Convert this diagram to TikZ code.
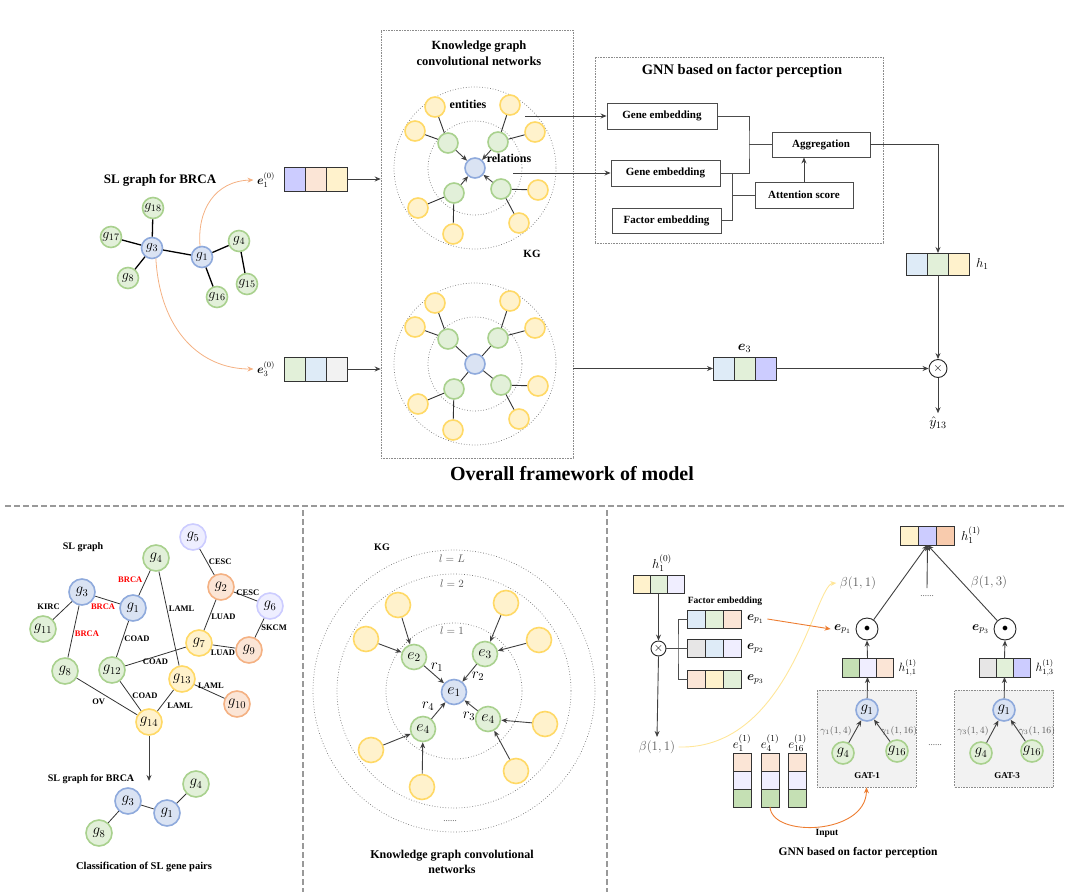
\documentclass[tikz,border=0pt]{standalone}
\usepackage{fix-cm}
\usepackage{amsmath}
\usepackage{fontspec}
\setmainfont{Liberation Serif}
\usetikzlibrary{arrows.meta, positioning, calc}
\definecolor{sfBlueFill}{HTML}{DAE3F3}
\definecolor{sfBlueLine}{HTML}{8FAADC}
\definecolor{sfGreenFill}{HTML}{E2F0D9}
\definecolor{sfGreenLine}{HTML}{A9D18E}
\definecolor{sfYellowFill}{HTML}{FFF2CC}
\definecolor{sfYellowLine}{HTML}{FFD966}
\definecolor{sfOrangeFill}{HTML}{FBE5D6}
\definecolor{sfOrangeLine}{HTML}{F4B183}
\definecolor{sfLavFill}{HTML}{EEEEFF}
\definecolor{sfLavLine}{HTML}{CCCCFF}
\definecolor{sfLav}{HTML}{CCCCFF}
\definecolor{sfPale}{HTML}{F0EEFF}
\definecolor{sfSky}{HTML}{DEEBF7}
\definecolor{sfGray}{HTML}{E7E6E6}
\definecolor{sfLight}{HTML}{F2F2F2}
\definecolor{sfLeaf}{HTML}{C5E0B4}
\definecolor{sfPeach}{HTML}{F8CBAD}
\definecolor{sfCurve}{HTML}{F4B183}
\definecolor{sfInput}{HTML}{ED7D31}
\definecolor{sfGold}{HTML}{FFE699}
\definecolor{sfRed}{HTML}{FF0000}

% three-cell embedding vector: name, centre of middle cell, cell width, cell height, colours
\newcommand{\embvec}[7]{%
  \node[vcell, minimum width=#3, minimum height=#4, fill=#6] (#1-2) at #2 {};
  \node[vcell, minimum width=#3, minimum height=#4, fill=#5, left=0pt of #1-2] (#1-1) {};
  \node[vcell, minimum width=#3, minimum height=#4, fill=#7, right=0pt of #1-2] (#1-3) {};
}

\begin{document}
\begin{tikzpicture}[x=1pt, y=-1pt,
    font=\fontsize{12}{14}\selectfont,
    gene/.style={circle, line width=1.6pt, inner sep=0pt, minimum size=21pt, font=\fontsize{14}{14}\selectfont},
    gblue/.style={gene, draw=sfBlueLine, fill=sfBlueFill},
    ggreen/.style={gene, draw=sfGreenLine, fill=sfGreenFill},
    gyellow/.style={gene, draw=sfYellowLine, fill=sfYellowFill},
    gorange/.style={gene, draw=sfOrangeLine, fill=sfOrangeFill},
    glav/.style={gene, draw=sfLavLine, fill=sfLavFill},
    big/.style={minimum size=26pt, font=\fontsize{15}{15}\selectfont},
    mid/.style={minimum size=25pt, font=\fontsize{16}{16}\selectfont},
    vcell/.style={draw=black!80, line width=0.9pt, inner sep=0pt, outer sep=0pt},
    box/.style={draw=black!70, line width=0.9pt, minimum height=26pt, font=\bfseries\fontsize{11}{13}\selectfont},
    dotbox/.style={draw=black!45, densely dotted, line width=0.6pt},
    gatbox/.style={draw=black!45, densely dotted, line width=0.6pt, fill=sfLight},
    ring/.style={draw=black!55, dotted, line width=0.7pt},
    link/.style={draw=black, line width=1.3pt},
    ledge/.style={draw=black!80, line width=0.8pt},
    kgline/.style={draw=black!80, line width=0.9pt},
    conn/.style={draw=black!70, line width=0.9pt},
    arr/.style={-{Stealth[length=6pt, width=5pt]}, draw=black!75, line width=0.9pt},
    ocurve/.style={-{Stealth[length=6pt, width=5pt]}, draw=sfCurve, line width=0.8pt},
    icurve/.style={-{Stealth[length=6pt, width=5pt]}, draw=sfInput, line width=0.9pt},
    ycurve/.style={-{Stealth[length=6pt, width=5pt]}, draw=sfGold, line width=0.9pt},
    opnode/.style={circle, draw=black!85, line width=0.9pt, inner sep=0pt, fill=white},
    title/.style={font=\bfseries\fontsize{12.5}{16}\selectfont, align=center},
    elab/.style={font=\bfseries\fontsize{8.5}{10}\selectfont, inner sep=1.5pt},
    gtext/.style={text=black!65, font=\fontsize{13}{15}\selectfont},
    sepline/.style={draw=black!40, line width=2.2pt, dash pattern=on 6pt off 3pt}
  ]
  \useasboundingbox (0,0) rectangle (1069,894);

  % ---------- overall framework ----------
  \node[title, font=\bfseries\fontsize{13}{15}\selectfont] (slt) at (160,180) {SL graph for BRCA};
  \node[gblue] (t3) at (152,248) {$g_{3}$};
  \node[gblue] (t1) at (202,257) {$g_{1}$};
  \node[ggreen] (t18) at (153,208) {$g_{18}$};
  \node[ggreen] (t17) at (111,237) {$g_{17}$};
  \node[ggreen] (t8) at (128,278) {$g_{8}$};
  \node[ggreen] (t4) at (239,241) {$g_{4}$};
  \node[ggreen] (t15) at (247,284) {$g_{15}$};
  \node[ggreen] (t16) at (217,297) {$g_{16}$};
  \foreach \a/\b in {t3/t18, t3/t17, t3/t8, t3/t1, t1/t4, t4/t15, t1/t16}
    \draw[link] (\a) -- (\b);

  \node (e1lab) at (266,180) {$\boldsymbol{e}_{1}^{(0)}$};
  \embvec{e1v}{(315.5,179)}{21pt}{24pt}{sfLav}{sfOrangeFill}{sfYellowFill}
  \node (e3lab) at (266,369) {$\boldsymbol{e}_{3}^{(0)}$};
  \embvec{e3v}{(315.5,369)}{21pt}{24pt}{sfGreenFill}{sfSky}{sfLight}
  \draw[ocurve] (t1.100) .. controls (197,210) and (215,181) .. (e1lab.west);
  \draw[ocurve] (t3.-70) .. controls (160,330) and (200,369) .. (e3lab.west);

  % knowledge graph convolutional networks
  \node[dotbox, minimum width=192pt, minimum height=428pt] (kgbox) at (477,244) {};
  \node[title] (kgt) at (479,53) {Knowledge graph\\convolutional networks};
  \draw[arr] (e1v-3.east) -- (e1v-3.east -| kgbox.west);
  \draw[arr] (e3v-3.east) -- (e3v-3.east -| kgbox.west);

  \draw[ring] (475,168) circle[radius=81];
  \draw[ring] (475,168) circle[radius=47];
  \node[gblue, minimum size=20pt] (kuc) at (475,168) {};
  \foreach \g/\x/\y in {1/448/143, 2/498/142, 3/454/193, 4/501/189} {
    \node[ggreen, minimum size=20pt] (kug\g) at (\x,\y) {};
    \draw[arr] (kug\g) -- (kuc);
  }
  \foreach \k/\g/\x/\y in {1/1/435/107, 2/1/415/131, 3/2/510/105, 4/2/535/132,
                           5/3/418/208, 6/3/453/234, 7/4/538/190, 8/4/519/223} {
    \node[gyellow, minimum size=20pt] (kuy\k) at (\x,\y) {};
    \draw[kgline] (kuy\k) -- (kug\g);
  }
  \node[title, font=\bfseries\fontsize{12}{14}\selectfont] (entl) at (468,104) {entities};
  \node[title, font=\bfseries\fontsize{12}{14}\selectfont] (rell) at (509,158) {relations};
  \node[title, font=\bfseries\fontsize{11}{13}\selectfont] (kgl) at (532,254) {KG};

  \draw[ring] (475,364) circle[radius=81];
  \draw[ring] (475,364) circle[radius=47];
  \node[gblue, minimum size=20pt] (klc) at (475,364) {};
  \foreach \g/\x/\y in {1/448/339, 2/498/338, 3/454/389, 4/501/385} {
    \node[ggreen, minimum size=20pt] (klg\g) at (\x,\y) {};
    \draw[kgline] (klg\g) -- (klc);
  }
  \foreach \k/\g/\x/\y in {1/1/435/303, 2/1/415/327, 3/2/510/301, 4/2/535/328,
                           5/3/418/404, 6/3/453/430, 7/4/538/386, 8/4/519/419} {
    \node[gyellow, minimum size=20pt] (kly\k) at (\x,\y) {};
    \draw[kgline] (kly\k) -- (klg\g);
  }

  % GNN based on factor perception
  \node[dotbox, minimum width=288pt, minimum height=186pt] (gnnbox) at (739,150) {};
  \node[title, font=\bfseries\fontsize{14.5}{16}\selectfont] (gnnt) at (742,71) {GNN based on factor perception};
  \node[box, minimum width=110pt] (ge1) at (662,116) {Gene embedding};
  \node[box, minimum width=109pt] (ge2) at (665.5,173) {Gene embedding};
  \node[box, minimum width=109pt, minimum height=25pt] (fe) at (666.5,220.5) {Factor embedding};
  \node[box, minimum width=98pt, minimum height=25pt] (agg) at (821,144.5) {Aggregation};
  \node[box, minimum width=98pt] (att) at (804,195) {Attention score};
  \coordinate (kuo1) at (525,116);
  \coordinate (kuo2) at (513,173);
  \draw[arr] (kuo1) -- (kuo1 -| ge1.west);
  \draw[arr] (kuo2) -- (kuo2 -| ge2.west);
  \coordinate (jn1) at (749,144.5);
  \coordinate (jn2) at (732,195);
  \draw[conn] (ge1.east) -| (jn1) |- (ge2.east);
  \draw[conn] (jn1) -- (agg.west);
  \draw[conn] (fe.east) -| (jn2) -- (att.west);
  \draw[conn] (jn2) |- (ge2.east);
  \draw[arr] (att.north) -- (att.north |- agg.south);

  % scoring
  \embvec{h1v}{(938,264)}{21pt}{22pt}{sfSky}{sfGreenFill}{sfYellowFill}
  \node[right=3pt of h1v-3, font=\fontsize{13}{15}\selectfont] (h1lab) {$h_{1}$};
  \draw[arr] (agg.east) -| (h1v-2.north);
  \embvec{e3o}{(744.5,368.5)}{21pt}{23pt}{sfSky}{sfGreenFill}{sfLav}
  \node[above=1pt of e3o-2, font=\fontsize{14}{16}\selectfont] (e3olab) {$\boldsymbol{e}_{3}$};
  \draw[arr] (kgbox.east |- e3o-1.west) -- (e3o-1.west);
  \node[opnode, minimum size=18pt] (prod) at (938,368.5) {$\times$};
  \draw[arr] (e3o-3.east) -- (prod.west);
  \draw[arr] (h1v-2.south) -- (prod.north);
  \node[font=\fontsize{14}{16}\selectfont] (yhat) at (938,423) {$\hat{y}_{13}$};
  \draw[arr] (prod.south) -- (yhat.north);

  \node[font=\bfseries\fontsize{20}{22}\selectfont] (overall) at (572,474) {Overall framework of model};

  \draw[sepline] (5,506) -- (1064,506);
  \draw[sepline] (303,510) -- (303,892);
  \draw[sepline] (607,510) -- (607,892);

  % ---------- classification of SL gene pairs ----------
  \node[title, font=\bfseries\fontsize{10}{12}\selectfont] (slg) at (83,547) {SL graph};
  \node[glav, big] (b5) at (193,537) {$g_{5}$};
  \node[ggreen, big] (b4) at (156,558) {$g_{4}$};
  \node[gorange, big] (b2) at (221,587) {$g_{2}$};
  \node[gblue, big] (b3) at (82,592) {$g_{3}$};
  \node[gblue, big] (b1) at (133,608) {$g_{1}$};
  \node[glav, big] (b6) at (270,606) {$g_{6}$};
  \node[ggreen, big] (b11) at (43,629) {$g_{11}$};
  \node[gyellow, big] (b7) at (199,643) {$g_{7}$};
  \node[gorange, big] (b9) at (249,650) {$g_{9}$};
  \node[ggreen, big] (b8) at (65,671) {$g_{8}$};
  \node[ggreen, big] (b12) at (112,670) {$g_{12}$};
  \node[gyellow, big] (b13) at (182,679) {$g_{13}$};
  \node[gorange, big] (b10) at (237,704) {$g_{10}$};
  \node[gyellow, big] (b14) at (149,722) {$g_{14}$};
  \draw[ledge] (b5) -- node[elab, right, pos=.5] {CESC} (b2);
  \draw[ledge] (b2) -- node[elab, above, pos=.6] {CESC} (b6);
  \draw[ledge] (b6) -- node[elab, right, pos=.5] {SKCM} (b9);
  \draw[ledge] (b2) -- node[elab, right, pos=.55] {LUAD} (b7);
  \draw[ledge] (b7) -- node[elab, below=2pt, pos=.45] {LUAD} (b9);
  \draw[ledge] (b4) -- node[elab, left=2pt, pos=.35, text=sfRed] {BRCA} (b1);
  \draw[ledge] (b4) -- node[elab, right, pos=.4] {LAML} (b13);
  \draw[ledge] (b3) -- node[elab, below=3pt, pos=.32, text=sfRed] {BRCA} (b1);
  \draw[ledge] (b3) -- node[elab, above left, pos=.55] {KIRC} (b11);
  \draw[ledge] (b3) -- node[elab, right, pos=.55, text=sfRed] {BRCA} (b8);
  \draw[ledge] (b1) -- node[elab, right, pos=.5] {COAD} (b12);
  \draw[ledge] (b12) -- node[elab, below, pos=.5] {COAD} (b7);
  \draw[ledge] (b12) -- node[elab, right, pos=.5] {COAD} (b14);
  \draw[ledge] (b13) -- node[elab, below right, pos=.5] {LAML} (b14);
  \draw[ledge] (b13) -- node[elab, above=2pt, pos=.55] {LAML} (b10);
  \draw[ledge] (b8) -- node[elab, below left, pos=.5] {OV} (b14);
  \coordinate (bdown) at (149,781);
  \draw[arr] (b14) -- (bdown);

  \node[title, font=\bfseries\fontsize{10}{12}\selectfont] (slb) at (91,779) {SL graph for BRCA};
  \node[gblue, big] (s3) at (128,801) {$g_{3}$};
  \node[gblue, big] (s1) at (167,813) {$g_{1}$};
  \node[ggreen, big] (s4) at (196,784) {$g_{4}$};
  \node[ggreen, big] (s8) at (99,833) {$g_{8}$};
  \draw[ledge] (s3) -- (s1);
  \draw[ledge] (s1) -- (s4);
  \draw[ledge] (s3) -- (s8);
  \node[title, font=\bfseries\fontsize{10.5}{12}\selectfont] (slcap) at (144,867) {Classification of SL gene pairs};

  % ---------- knowledge graph convolutional networks ----------
  \node[title, font=\bfseries\fontsize{10}{12}\selectfont] (kgm) at (382,547) {KG};
  \draw[ring] (454,691) circle[radius=141];
  \draw[ring] (454,691) circle[radius=117];
  \draw[ring] (454,691) circle[radius=68];
  \node[gtext, font=\fontsize{11}{12}\selectfont] (lL) at (452,559) {$l=L$};
  \node[gtext, font=\fontsize{11}{12}\selectfont] (l2) at (452,584) {$l=2$};
  \node[gtext, font=\fontsize{11}{12}\selectfont] (l1) at (452,631) {$l=1$};
  \node[gblue, mid] (m1) at (454,692) {$e_{1}$};
  \node[ggreen, mid] (m2) at (414,657) {$e_{2}$};
  \node[ggreen, mid] (m3) at (485,654) {$e_{3}$};
  \node[ggreen, mid] (m4a) at (423,729) {$e_{4}$};
  \node[ggreen, mid] (m4b) at (488,719) {$e_{4}$};
  \foreach \g in {m2, m3, m4a, m4b}
    \draw[arr] (\g) -- (m1);
  \foreach \k/\g/\x/\y in {1/m2/398/605, 2/m2/366/639, 3/m3/506/603, 4/m3/539/640,
                           5/m4b/545/724, 6/m4b/516/771, 7/m4a/371/750, 8/m4a/422/787} {
    \node[gyellow, mid] (my\k) at (\x,\y) {};
    \draw[arr] (my\k) -- (\g);
  }
  \node[font=\fontsize{15}{15}\selectfont] (r1lab) at (437,667) {$r_{1}$};
  \node[font=\fontsize{15}{15}\selectfont] (r2lab) at (478,676) {$r_{2}$};
  \node[font=\fontsize{15}{15}\selectfont] (r3lab) at (469,716) {$r_{3}$};
  \node[font=\fontsize{15}{15}\selectfont] (r4lab) at (428,706) {$r_{4}$};
  \node[gtext, font=\fontsize{9}{10}\selectfont] (mdots) at (450,821) {......};
  \node[title, font=\bfseries\fontsize{12}{15}\selectfont] (kgcap) at (452,862) {Knowledge graph convolutional\\networks};

  % ---------- GNN based on factor perception ----------
  \node[font=\fontsize{13}{15}\selectfont] (h0lab) at (662,563) {$h_{1}^{(0)}$};
  \embvec{h0v}{(658.5,584)}{17pt}{18pt}{sfYellowFill}{sfGreenFill}{sfPale}
  \node[opnode, minimum size=15pt] (prod2) at (658.5,648.5) {$\times$};
  \draw[arr] (h0v-2.south) -- (prod2.north);
  \node[font=\bfseries\fontsize{9.5}{11}\selectfont] (fetxt) at (725,601) {Factor embedding};
  \embvec{ep1v}{(714.5,619)}{18pt}{18pt}{sfSky}{sfGreenFill}{sfOrangeFill}
  \embvec{ep2v}{(714.5,648.5)}{18pt}{18pt}{sfGray}{sfSky}{sfPale}
  \embvec{ep3v}{(714.5,679.5)}{18pt}{18pt}{sfOrangeFill}{sfYellowFill}{sfGreenFill}
  \node[right=2pt of ep1v-3, font=\fontsize{13}{15}\selectfont] (ep1lab) {$\boldsymbol{e}_{p_{1}}$};
  \node[right=2pt of ep2v-3, font=\fontsize{13}{15}\selectfont] (ep2lab) {$\boldsymbol{e}_{p_{2}}$};
  \node[right=2pt of ep3v-3, font=\fontsize{13}{15}\selectfont] (ep3lab) {$\boldsymbol{e}_{p_{3}}$};
  \coordinate (fj) at (678,648.5);
  \draw[conn] (ep1v-1.west) -| (fj) |- (ep3v-1.west);
  \draw[conn] (prod2.east) -- (ep2v-1.west);
  \node[gtext] (beta0) at (657,747) {$\beta(1,1)$};
  \draw[arr] (prod2.south) -- (beta0.north);

  \embvec{h1o}{(927.5,535.5)}{18pt}{19pt}{sfYellowFill}{sfLav}{sfPeach}
  \node[right=3pt of h1o-3, font=\fontsize{13}{15}\selectfont] (h1olab) {$h_{1}^{(1)}$};
  \node[opnode, minimum size=22pt] (odot1) at (867,629) {$\bullet$};
  \node[opnode, minimum size=22pt] (odot3) at (1005,629) {$\bullet$};
  \node[left=1pt of odot1, font=\fontsize{13}{15}\selectfont] (epa) {$\boldsymbol{e}_{p_{1}}$};
  \node[left=1pt of odot3, font=\fontsize{13}{15}\selectfont] (epc) {$\boldsymbol{e}_{p_{3}}$};
  \draw[arr] (odot1) -- (h1o-2.south);
  \draw[arr] (odot3) -- (h1o-2.south);
  \coordinate (hmid) at (927,588);
  \draw[arr] (hmid) -- (h1o-2.south);
  \node[gtext, font=\fontsize{9}{10}\selectfont] (hdots) at (927,596) {......};
  \node[gtext] (b11lab) at (858,583) {$\beta(1,1)$};
  \node[gtext] (b13lab) at (989,582) {$\beta(1,3)$};
  \draw[ycurve] (beta0.east) .. controls (790,750) and (815,585) .. (b11lab.west);
  \draw[icurve] (ep1lab.east) -- (epa.west);

  \embvec{h11v}{(867.5,667.5)}{17pt}{19pt}{sfLeaf}{sfPale}{sfOrangeFill}
  \node[right=2pt of h11v-3] (h11lab) {$h_{1,1}^{(1)}$};
  \embvec{h13v}{(1004.5,667.5)}{17pt}{19pt}{sfGray}{sfGreenFill}{sfLav}
  \node[right=2pt of h13v-3] (h13lab) {$h_{1,3}^{(1)}$};
  \draw[arr] (h11v-2.north) -- (odot1.south);
  \draw[arr] (h13v-2.north) -- (odot3.south);

  \node[gatbox, minimum width=99pt, minimum height=97pt] (gat1) at (866.5,738.5) {};
  \node[gatbox, minimum width=99pt, minimum height=97pt] (gat3) at (1004,738.5) {};
  \node[gblue, minimum size=22pt, font=\fontsize{15}{15}\selectfont] (ga1) at (867,710) {$g_{1}$};
  \node[ggreen, minimum size=22pt, font=\fontsize{15}{15}\selectfont] (ga4) at (843,753) {$g_{4}$};
  \node[ggreen, minimum size=22pt, font=\fontsize{15}{15}\selectfont] (ga16) at (897,751) {$g_{16}$};
  \node[gblue, minimum size=22pt, font=\fontsize{15}{15}\selectfont] (gc1) at (1004,710) {$g_{1}$};
  \node[ggreen, minimum size=22pt, font=\fontsize{15}{15}\selectfont] (gc4) at (981,753) {$g_{4}$};
  \node[ggreen, minimum size=22pt, font=\fontsize{15}{15}\selectfont] (gc16) at (1032,751) {$g_{16}$};
  \draw[arr] (ga4) -- (ga1);
  \draw[arr] (ga16) -- (ga1);
  \draw[arr] (gc4) -- (gc1);
  \draw[arr] (gc16) -- (gc1);
  \draw[arr] (ga1) -- (h11v-2.south);
  \draw[arr] (gc1) -- (h13v-2.south);
  \node[gtext, font=\fontsize{9.5}{10}\selectfont] (ga14) at (836,731) {$\gamma_{1}(1,4)$};
  \node[gtext, font=\fontsize{9.5}{10}\selectfont] (ga116) at (899,731) {$\gamma_{1}(1,16)$};
  \node[gtext, font=\fontsize{9.5}{10}\selectfont] (gc34) at (973,731) {$\gamma_{3}(1,4)$};
  \node[gtext, font=\fontsize{9.5}{10}\selectfont] (gc316) at (1037,731) {$\gamma_{3}(1,16)$};
  \node[font=\bfseries\fontsize{9}{10}\selectfont] (gat1lab) at (867,776) {GAT-1};
  \node[font=\bfseries\fontsize{9}{10}\selectfont] (gat3lab) at (1007,776) {GAT-3};
  \node[gtext, font=\fontsize{9}{10}\selectfont] (gdots) at (935,745) {......};

  \foreach \c/\x/\s in {c1/742/1, c4/770/4, c16/797.5/16} {
    \node[vcell, minimum width=18pt, minimum height=18pt, fill=sfOrangeFill] (\c-1) at (\x,762) {};
    \node[vcell, minimum width=18pt, minimum height=18pt, fill=sfPale, below=0pt of \c-1] (\c-2) {};
    \node[vcell, minimum width=18pt, minimum height=18pt, fill=sfLeaf, below=0pt of \c-2] (\c-3) {};
    \node[above=0pt of \c-1, inner sep=1pt, font=\fontsize{13}{15}\selectfont] (\c-lab) {$e_{\s}^{(1)}$};
  }
  \draw[icurve] (c4-3.south) .. controls (772,838) and (866,835) .. (gat1.south);
  \node[font=\bfseries\fontsize{9.5}{11}\selectfont] (inlab) at (827,833) {Input};
  \node[title, font=\bfseries\fontsize{11.5}{13}\selectfont] (gnncap) at (858,853) {GNN based on factor perception};
\end{tikzpicture}
\end{document}
